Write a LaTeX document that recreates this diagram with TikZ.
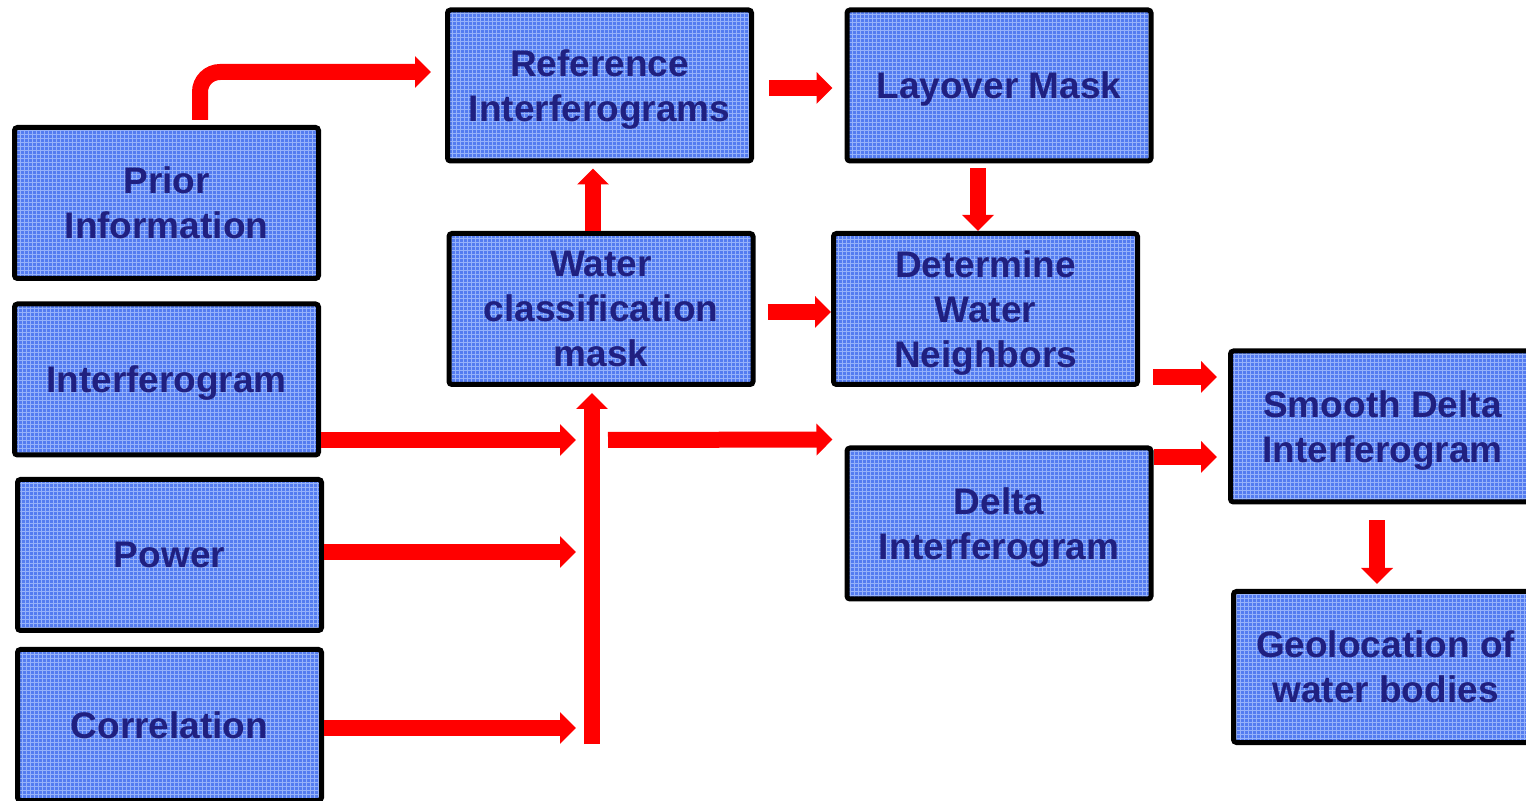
\documentclass[tikz,border=0pt]{standalone}
\usepackage{fontspec}
\setmainfont{Liberation Sans}
\usetikzlibrary{arrows.meta,calc,positioning}
\definecolor{boxblue}{RGB}{84,124,240}
\definecolor{boxgrid}{RGB}{150,178,250}
\definecolor{boxtext}{RGB}{32,32,128}

\begin{document}
\begin{tikzpicture}[x=0.5pt, y=-0.5pt, >={Triangle[width=15.5pt,length=8pt]}]
\tikzstyle{box}=[draw=black, line width=2.5pt, fill=boxblue, rounded corners=1.5pt, minimum width=152pt, minimum height=75.5pt, inner sep=0pt, align=center, text depth=0pt, text=boxtext, font=\fontsize{18.5}{22.5}\selectfont\bfseries,
  path picture={\draw[boxgrid, line width=0.5pt] (path picture bounding box.south west) grid[step=2pt] (path picture bounding box.north east);}]
\tikzstyle{flow}=[->, draw=red, line width=8pt]
\useasboundingbox (0,0) rectangle (1526,801);

\node[box] (R)  at (599.5,85.5)  {Reference\\Interferograms};
\node[box] (L)  at (999,85.5)    {Layover Mask};
\node[box] (P)  at (166.5,203)   {Prior\\Information};
\node[box] (W)  at (601,309)     {Water\\classification\\mask};
\node[box] (D)  at (985.5,309)   {Determine\\Water\\Neighbors};
\node[box] (I)  at (166.5,379.5) {Interferogram};
\node[box] (Pw) at (169.5,555)   {Power};
\node[box] (C)  at (169.5,725)   {Correlation};
\node[box] (S)  at (1382.5,426.5) {Smooth Delta\\Interferogram};
\node[box] (Dl) at (999,523.5)   {Delta\\Interferogram};
\node[box] (G)  at (1385.5,667)  {Geolocation of\\water bodies};

\coordinate (bus) at (592,744);
\coordinate (j1)  at (576,440);
\coordinate (j2)  at (576,552);
\coordinate (j3)  at (576,728);
\coordinate (k1)  at (608,440);

\draw[flow, rounded corners=10pt] ($(P.north)+(33.5,-5)$) |- ($(R.west)+(-14,-13.5)$);
\draw[flow] ($(R.east)+(15,2.5)$)  -- ($(L.west)+(-12,2.5)$);
\draw[flow] ($(W.north)+(-8,0)$)   -- ($(R.south)+(-6.5,5)$);
\draw[flow] ($(L.south)+(-21,5)$)  -- ($(D.north)+(-7.5,0)$);
\draw[flow] ($(W.east)+(12,3)$)    -- ($(D.west)+(0,3)$);
\draw[flow] (bus)                  -- ($(W.south)+(-9,6)$);
\draw[flow] ($(I.east)+(0,60.5)$)  -- (j1);
\draw[flow] ($(Pw.east)+(0,-3)$)   -- (j2);
\draw[flow] ($(C.east)+(0,3)$)     -- (j3);
\draw[flow] (k1)                   -- ($(Dl.north west)+(-12,-6)$);
\draw[flow] ($(D.east)+(13,68)$)   -- ($(S.west)+(-11,-49.5)$);
\draw[flow] ($(Dl.east)+(0,-66.5)$) -- ($(S.west)+(-11,30.5)$);
\draw[flow] ($(S.south)+(-5.5,16)$) -- ($(G.north)+(-8.5,-5)$);
\end{tikzpicture}
\end{document}
